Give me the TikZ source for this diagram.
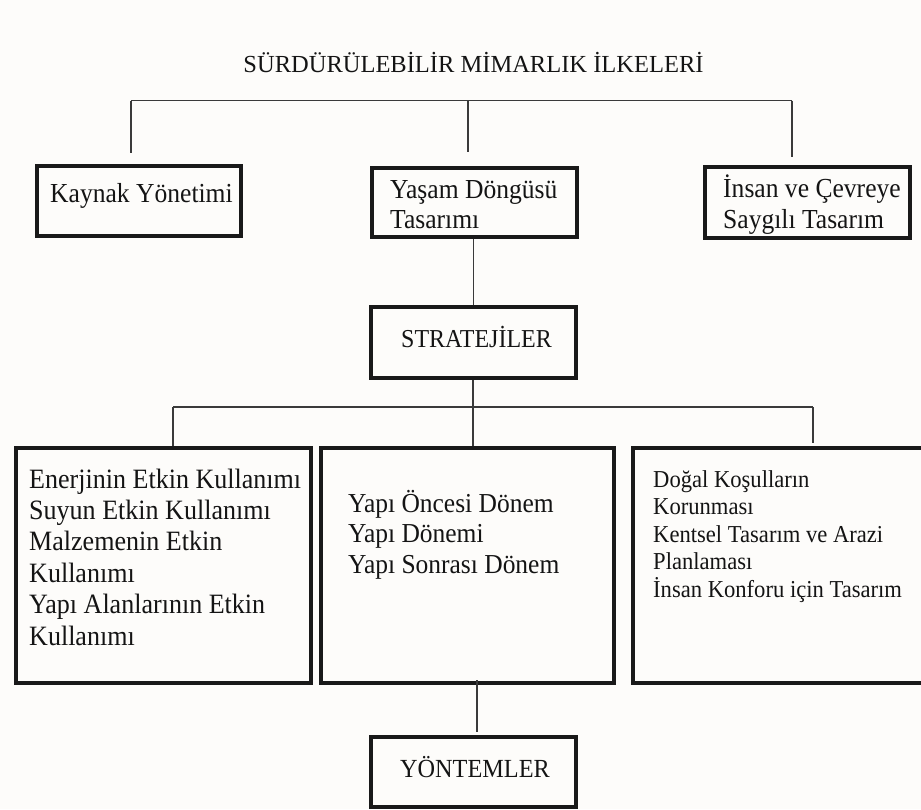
\documentclass[tikz,border=0pt]{standalone}
\usepackage{fontspec}
\setmainfont{Liberation Serif}
\newfontfamily\tallserif[FakeStretch=0.93]{Liberation Serif}
\definecolor{bgc}{HTML}{FDFCFA}
\definecolor{linec}{HTML}{3A3A3A}
\tikzset{
  boxnode/.style={draw=black!90, line width=3.1pt, inner sep=0pt, rectangle},
  conn/.style={draw=linec, line width=1.1pt},
  txt/.style={inner sep=0pt, anchor=base west, text=black!92},
  ttl/.style={inner sep=0pt, anchor=base, text=black!92},
}
\begin{document}
\begin{tikzpicture}[x=1pt,y=-1pt]
\fill[bgc] (0,0) rectangle (921,809);
\useasboundingbox (0,0) rectangle (921,809);

% title
\node[ttl, font=\fontsize{24.5}{29}\selectfont] (title) at (473.5,72) {SÜRDÜRÜLEBİLİR MİMARLIK İLKELERİ};

% boxes
\node[boxnode, minimum width=204pt, minimum height=70pt] (kaynak) at (139,201) {};
\node[boxnode, minimum width=205pt, minimum height=69pt] (yasam) at (474.5,202.5) {};
\node[boxnode, minimum width=205pt, minimum height=71pt] (insan) at (807.5,202.5) {};
\node[boxnode, minimum width=205pt, minimum height=71pt] (strat) at (473.5,342.5) {};
\node[boxnode, minimum width=295pt, minimum height=235pt] (left) at (163.5,565.5) {};
\node[boxnode, minimum width=293pt, minimum height=235pt] (mid) at (467.5,565.5) {};
\node[boxnode, minimum width=292pt, minimum height=235pt] (right) at (779,565.5) {};
\node[boxnode, minimum width=205pt, minimum height=70pt] (yontem) at (473.5,772) {};

% texts
\begin{scope}[font=\tallserif\fontsize{27.5}{30}\selectfont]
\node[txt] (k1) at (50,202) {Kaynak Yönetimi};
\node[txt] (y1) at (390,198) {Yaşam Döngüsü};
\node[txt] (y2) at (390,228) {Tasarımı};
\node[txt] (i1) at (723,197) {İnsan ve Çevreye};
\node[txt] (i2) at (723,228) {Saygılı Tasarım};
\end{scope}

\node[ttl, font=\tallserif\fontsize{25.8}{29}\selectfont] (s1) at (476.5,347) {STRATEJİLER};
\node[ttl, font=\tallserif\fontsize{26.1}{29}\selectfont] (o1) at (475,777) {YÖNTEMLER};

\begin{scope}[font=\tallserif\fontsize{28}{31}\selectfont]
\node[txt] (a1) at (29,488) {Enerjinin Etkin Kullanımı};
\node[txt] (a2) at (29,519.4) {Suyun Etkin Kullanımı};
\node[txt] (a3) at (29,550.8) {Malzemenin Etkin};
\node[txt] (a4) at (29,582.2) {Kullanımı};
\node[txt] (a5) at (29,613.6) {Yapı Alanlarının Etkin};
\node[txt] (a6) at (29,645) {Kullanımı};
\end{scope}

\begin{scope}[font=\tallserif\fontsize{27.4}{30}\selectfont]
\node[txt] (b1) at (348,512) {Yapı Öncesi Dönem};
\node[txt] (b2) at (348,542) {Yapı Dönemi};
\node[txt] (b3) at (348,573) {Yapı Sonrası Dönem};
\end{scope}

\begin{scope}[font=\tallserif\fontsize{24.3}{27}\selectfont]
\node[txt] (c1) at (653,487) {Doğal Koşulların};
\node[txt] (c2) at (653,514.5) {Korunması};
\node[txt] (c3) at (653,542) {Kentsel Tasarım ve Arazi};
\node[txt] (c4) at (653,569.5) {Planlaması};
\node[txt] (c5) at (653,597) {İnsan Konforu için Tasarım};
\end{scope}

% connectors: top
\coordinate (t1) at (131,100.7);
\coordinate (t2) at (468,100.7);
\coordinate (t3) at (792,100.7);
\coordinate (d1) at (131,153);
\coordinate (d2) at (468,152);
\coordinate (d3) at (792,157);
\draw[conn] (t1) -- (t3);
\draw[conn] (t1) -- (d1);
\draw[conn] (t2) -- (d2);
\draw[conn] (t3) -- (d3);

% yasam -> strat
\draw[conn] (strat.north) -- (strat.north |- yasam.south);

% strat -> level 2
\coordinate (bl) at (173,407);
\coordinate (br) at (813,407);
\coordinate (bre) at (813,443);
\draw[conn] (473,0 |- strat.south) -- (473,0 |- mid.north);
\draw[conn] (bl) -- (br);
\draw[conn] (bl) -- (bl |- left.north);
\draw[conn] (br) -- (bre);

% mid -> yontem
\coordinate (m1) at (477,680);
\coordinate (m2) at (477,732);
\draw[conn] (m1) -- (m2);
\end{tikzpicture}
\end{document}
